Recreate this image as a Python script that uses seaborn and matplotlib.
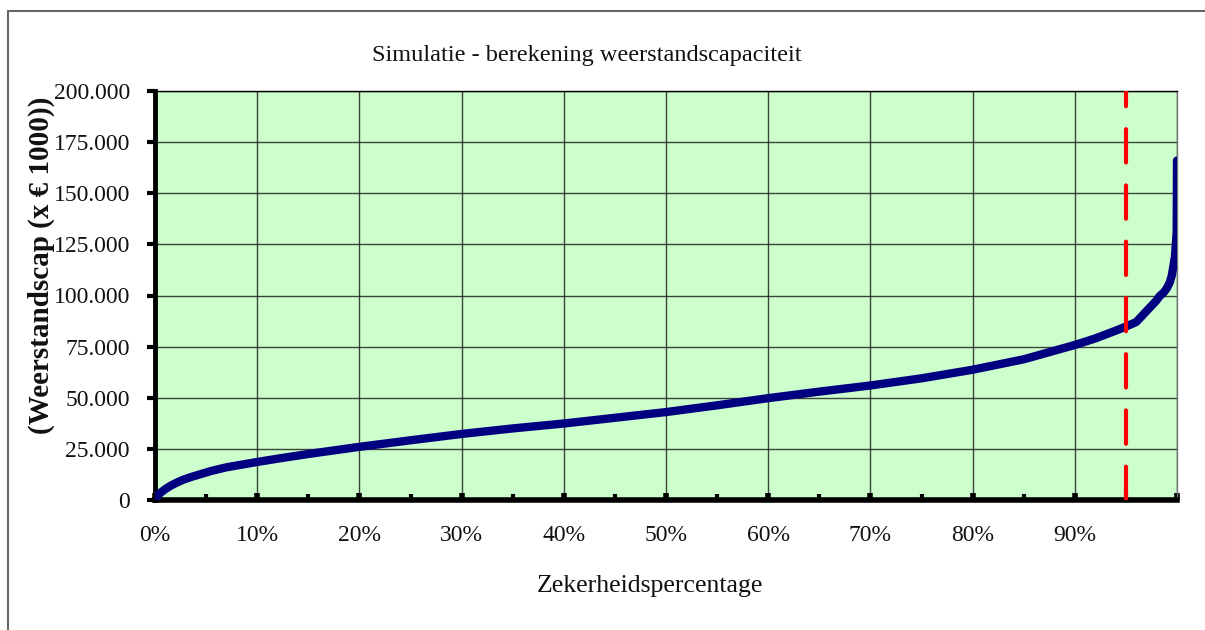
import matplotlib
matplotlib.use("Agg")
import matplotlib.pyplot as plt
import matplotlib.ticker as mticker
from matplotlib.lines import Line2D
import seaborn as sns
import pandas as pd

# Data (percentile in %, capacity in euro x 1000)
percentages = [0, 0.2, 0.5, 1, 1.5, 2, 2.7, 3.5, 4.7, 5.5, 7, 8.5, 10, 12.5,
               15, 20, 25, 30, 35, 40, 45, 50, 55, 60, 65, 70, 75, 80, 85,
               90, 92, 94, 95, 96, 96.5, 97, 98, 98.3, 98.7, 99, 99.3, 99.5,
               99.8, 99.97, 100]
capacity = [0, 1800, 3400, 5300, 6900, 8200, 9800, 11200, 13000, 14200,
            16000, 17300, 18600, 20600, 22500, 26000, 29200, 32300, 35000,
            37400, 40200, 43000, 46300, 49800, 53000, 56000, 59500, 63700,
            68800, 75800, 79000, 82800, 84800, 87000, 89600, 92300, 97600,
            99700, 101500, 103500, 106500, 110000, 119000, 131000, 166000]
threshold_pct = 95

x_ticks = list(range(0, 100, 10))
y_ticks = list(range(0, 200001, 25000))

df = pd.DataFrame({"pct": percentages, "cap": capacity})

sns.set_theme(style="white")
plt.rcParams['font.family'] = ['Liberation Serif', 'DejaVu Serif']

fig = plt.figure(figsize=(12.05, 6.3), dpi=100)
ax = fig.add_axes([155 / 1205, 1 - 500 / 630, (1177 - 155) / 1205, (500 - 91) / 630])
ax.set_facecolor("#CCFFCC")

sns.lineplot(data=df, x="pct", y="cap", ax=ax, color="#000080", linewidth=6,
             solid_capstyle="round", solid_joinstyle="round", zorder=3)
ax.axvline(threshold_pct, color="#FF0000", linewidth=3, dashes=(8, 5.5),
           dash_capstyle="round", zorder=4)

ax.set_xlim(0, 100)
ax.set_ylim(0, 200000)
ax.set_xticks(x_ticks + [100])
ax.set_xticklabels([f"{t}%" for t in x_ticks] + [""])
ax.xaxis.set_minor_locator(mticker.MultipleLocator(5))
ax.set_yticks(y_ticks)
ax.yaxis.set_major_formatter(mticker.FuncFormatter(lambda v, p: f"{v:,.0f}".replace(",", ".")))

ax.grid(True, which="major", color="#222222", linewidth=1, alpha=0.85)
ax.tick_params(axis="y", which="major", direction="out", length=6, width=3,
               color="black", labelsize=17, pad=12, left=True)
ax.tick_params(axis="x", which="major", direction="in", length=5, width=4,
               color="black", labelsize=17, pad=18, bottom=True)
ax.tick_params(axis="x", which="minor", direction="in", length=4, width=3,
               color="black", bottom=True)
for lab in ax.get_xticklabels() + ax.get_yticklabels():
    lab.set_color("#111111")

ax.spines["left"].set_linewidth(3.5)
ax.spines["left"].set_color("black")
ax.spines["bottom"].set_linewidth(4)
ax.spines["bottom"].set_color("black")
ax.spines["top"].set_linewidth(1)
ax.spines["top"].set_color("black")
ax.spines["right"].set_linewidth(1)
ax.spines["right"].set_color("#777777")

ax.set_xlabel("")
ax.set_ylabel("")

fig.text(587 / 1205, 1 - 56 / 630, "Simulatie - berekening weerstandscapaciteit",
         ha="center", va="center", fontsize=17.5, color="#111111")
fig.text(650 / 1205, 1 - 586 / 630, "Zekerheidspercentage",
         ha="center", va="center", fontsize=18.5, color="#111111")
fig.text(41 / 1205, 1 - 265 / 630, "(Weerstandscap (x \u20ac 1000))",
         ha="center", va="center", rotation=90, fontsize=21, fontweight="bold",
         color="#111111")

# outer frame (top and left edges visible)
fig.add_artist(Line2D([8 / 1205, 1.0], [1 - 11 / 630, 1 - 11 / 630],
                      transform=fig.transFigure, color="#666666", linewidth=1.5))
fig.add_artist(Line2D([8 / 1205, 8 / 1205], [0, 1 - 11 / 630],
                      transform=fig.transFigure, color="#666666", linewidth=1.5))

fig.savefig("out.png", dpi=100)
